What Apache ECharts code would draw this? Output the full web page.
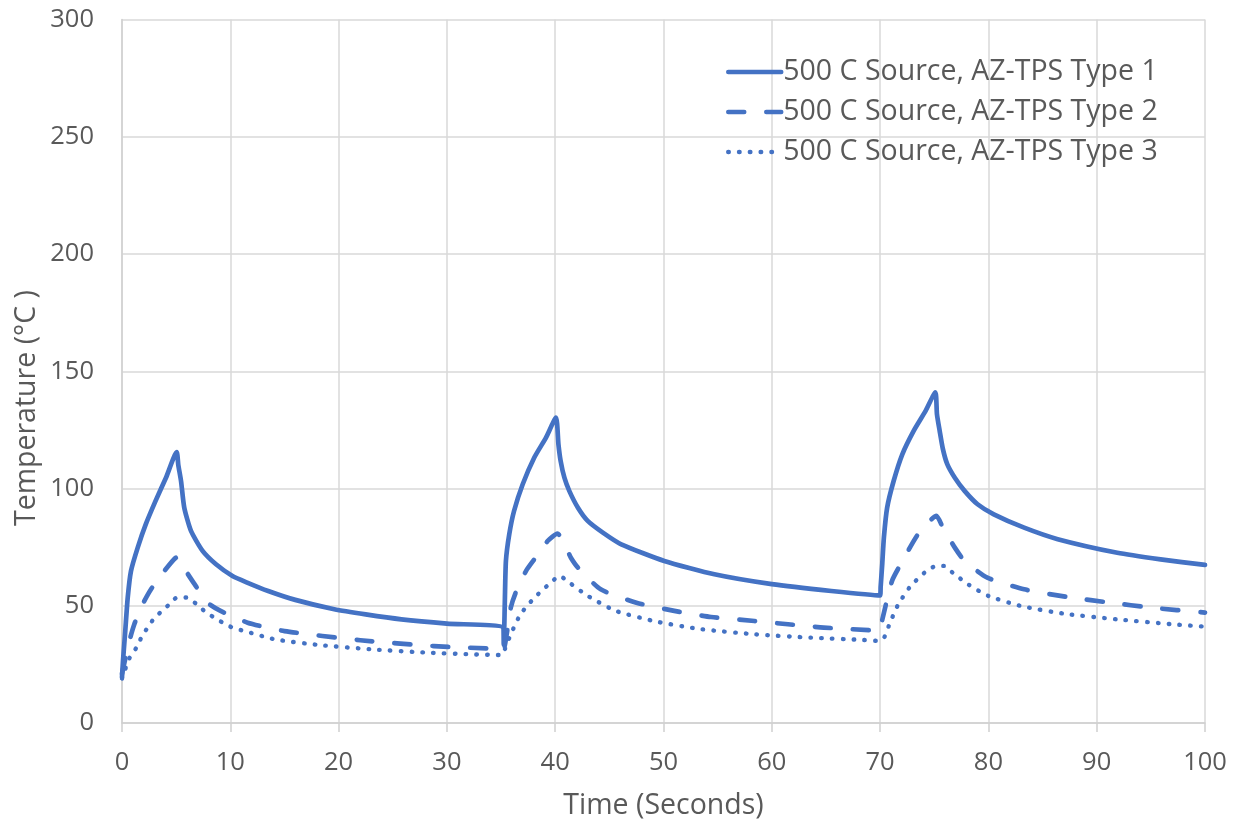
<!DOCTYPE html>
<html>
<head>
<meta charset="utf-8">
<script src="https://cdn.jsdelivr.net/npm/echarts@6/dist/echarts.min.js"></script>
<style>
html,body{margin:0;padding:0;background:#fff;}
#chart{width:1238px;height:821px;}
</style>
</head>
<body>
<div id="chart"></div>
<script>
// ---- Data ----
const seriesNames = [
  '500 C Source, AZ-TPS Type 1',
  '500 C Source, AZ-TPS Type 2',
  '500 C Source, AZ-TPS Type 3'
];
const xTicks = [0, 10, 20, 30, 40, 50, 60, 70, 80, 90, 100];
const yTicks = [0, 50, 100, 150, 200, 250, 300];

const time1 = [0, 0.1, 0.3, 0.53, 0.83, 1.45, 2.2, 3.1, 4.06, 5.05,
  5.2, 5.45, 5.75, 6.37, 7.44, 8.68, 10.2, 11.5, 13.5, 16, 19.6, 22.5, 25.8, 30, 35.2,
  35.25, 35.35, 35.45, 35.76, 36.2, 37, 38.07, 39.15, 40.07,
  40.3, 40.5, 40.85, 41.3, 42.1, 43, 44.4, 46.1, 50.07, 54.7, 60, 65.5, 70,
  70.05, 70.2, 70.35, 70.65, 71.25, 72.05, 73.1, 74.2, 75.1,
  75.25, 75.5, 75.8, 76.2, 76.9, 77.8, 79, 80.5, 83.3, 86.4, 91.9, 95.9, 100];
const temp1 = [19.5, 27, 39.2, 53.5, 64.8, 74.8, 84.8, 94.7, 104.6, 115.5,
  110, 103.2, 91.8, 81.9, 73.4, 67.7, 62.7, 60, 56.3, 52.5, 48.5, 46.3, 44.2, 42.4, 40.7,
  33.5, 52, 69.1, 80.5, 90.4, 101.8, 113.2, 121.7, 130.2,
  118.8, 111.8, 104.6, 99, 91.8, 86.2, 81.2, 76.2, 69.1, 63.4, 59.2, 56.3, 54.4,
  58, 68, 79.1, 91.8, 103.2, 114.6, 124.6, 133.1, 141,
  131.7, 124.6, 116.8, 110.4, 104.6, 99, 93.3, 89, 83.3, 78.4, 72.6, 69.8, 67.4];

const time2 = [0, 0.68, 1.13, 1.9, 2.68, 3.9, 4.8, 5.1, 5.9, 6.7, 7.9, 9.1, 11.6, 15, 22, 28.8, 35, 35.2, 35.9, 36.35, 37.3, 38.07, 39.3, 40.2, 41.45, 42.1, 44.2, 47.5, 51, 54.4, 58.4, 61.5, 64.8, 70, 70.2, 71.1, 71.9, 73.5, 75.2, 75.8, 76.9, 77.8, 79.9, 83.3, 87.6, 91.3, 95, 100];
const temp2 = [21, 35, 42, 50.6, 57, 64.8, 69.8, 70.8, 64.8, 59.2, 51.3, 47.8, 42.8, 39.2, 35.3, 32.8, 31.5, 31, 49.2, 55.6, 64.8, 69.8, 77.6, 80.8, 70.5, 66.3, 57, 51.3, 47.8, 45.2, 43.5, 42.1, 40.7, 39.5, 44, 60.6, 67.7, 80.5, 88.3, 83.3, 74.8, 69.1, 62, 57, 53.5, 51.3, 49.2, 47.1];

const time3 = [0, 0.3, 0.68, 1.3, 1.75, 2.28, 2.83, 3.53, 4.3, 5.08, 5.97, 6.83, 7.6, 8.43, 9.3, 10.2, 11.3, 14.1, 18.1, 23.1, 28.2, 32.2, 35.0, 35.15, 35.9, 36.8, 38.1, 39.6, 40.4, 41.3, 43, 45.6, 49.5, 53.5, 58.5, 63.6, 68.5, 69.9, 70.4, 70.8, 71.6, 72.7, 74.1, 75.2, 75.9, 76.7, 78.2, 80, 83, 87, 91.9, 97, 100];
const temp3 = [19, 23, 27.6, 31.9, 36.1, 40.1, 43.8, 47.1, 50.3, 53.5, 53.5, 50.9, 47.8, 45.2, 42.8, 40.7, 39.2, 35.7, 33.3, 31.4, 30, 29.3, 29, 29.3, 37.8, 46.4, 53.5, 59.9, 62.7, 59.9, 54.2, 47.8, 43.1, 40, 37.8, 36.4, 35.4, 35, 36.7, 41.4, 49.9, 57.7, 64.1, 67, 67, 64.1, 58.9, 54.2, 49.9, 46.6, 44.2, 42.1, 41.1];

// ---- Build chart ----
const zip = (xs, ys) => xs.map((x, i) => [x, ys[i]]);
const COLOR = '#4472C4';
const TEXT = '#595959';
const FONT = 'Open Sans';

const chart = echarts.init(document.getElementById('chart'), null, {renderer: 'canvas'});
chart.setOption({
  animation: false,
  backgroundColor: '#fff',
  grid: {left: 122, right: 33, top: 19.5, bottom: 98, containLabel: false, outerBoundsMode: 'none'},
  legend: {
    orient: 'vertical',
    left: 721,
    top: 52.5,
    itemWidth: 53,
    itemHeight: 14,
    itemGap: 11,
    itemStyle: {opacity: 0},
    lineStyle: {width: 4.5},
    textStyle: {color: TEXT, fontFamily: FONT, fontSize: 28.5, lineHeight: 28, padding: [0,0,0,-3]},
    data: seriesNames
  },
  xAxis: {
    type: 'value',
    min: xTicks[0],
    max: xTicks[xTicks.length - 1],
    interval: 10,
    name: 'Time (Seconds)',
    nameLocation: 'middle',
    nameGap: 68,
    nameTextStyle: {color: TEXT, fontFamily: FONT, fontSize: 28.5},
    axisLine: {show: true, lineStyle: {color: '#d0d0d0', width: 1.5}},
    axisTick: {show: true, length: 9, lineStyle: {color: '#d0d0d0', width: 1.5}},
    axisLabel: {color: TEXT, fontFamily: FONT, fontSize: 25.5, margin: 27},
    splitLine: {show: true, lineStyle: {color: '#d9d9d9', width: 1.5}}
  },
  yAxis: {
    type: 'value',
    min: yTicks[0],
    max: yTicks[yTicks.length - 1],
    interval: 50,
    axisLine: {show: true, lineStyle: {color: '#d0d0d0', width: 1.5}},
    axisTick: {show: false},
    axisLabel: {color: TEXT, fontFamily: FONT, fontSize: 25.5, margin: 28},
    splitLine: {show: true, lineStyle: {color: '#d9d9d9', width: 1.5}}
  },
  graphic: [{
    type: 'text',
    left: 12,
    top: 290,
    rotation: Math.PI / 2,
    style: {text: 'Temperature (°C )', fill: TEXT, font: '28.5px "Open Sans"'}
  }],
  series: [
    {
      name: seriesNames[0], type: 'line', data: zip(time1, temp1),
      symbol: 'none', smooth: 0.2,
      lineStyle: {color: COLOR, width: 4.7, cap: 'round', join: 'round'},
      itemStyle: {color: COLOR}
    },
    {
      name: seriesNames[1], type: 'line', data: zip(time2, temp2),
      symbol: 'none', smooth: 0.2,
      lineStyle: {color: COLOR, width: 4.7, type: [16, 22], cap: 'round', join: 'round'},
      itemStyle: {color: COLOR}
    },
    {
      name: seriesNames[2], type: 'line', data: zip(time3, temp3),
      symbol: 'none', smooth: 0.2,
      lineStyle: {color: COLOR, width: 4.4, type: [0.5, 10.3], cap: 'round', join: 'round'},
      itemStyle: {color: COLOR}
    }
  ]
});
</script>
</body>
</html>
